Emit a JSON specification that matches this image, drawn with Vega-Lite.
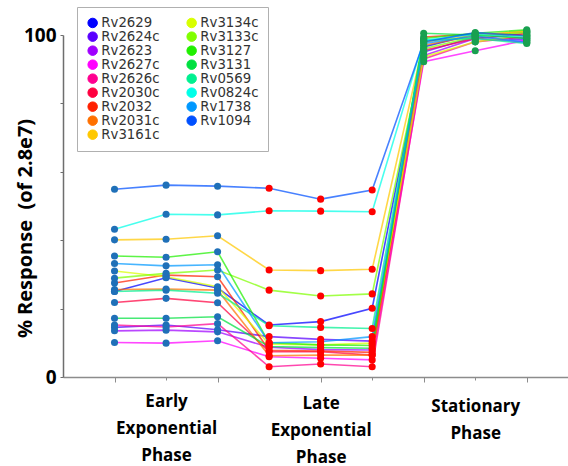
{
  "$schema": "https://vega.github.io/schema/vega-lite/v6.json",
  "autosize": "none",
  "width": 505,
  "height": 342,
  "padding": {"left": 63, "top": 35, "right": 0, "bottom": 89},
  "background": "white",
  "config": {"view": {"stroke": null}},
  "datasets": {
    "resp": [
      {"s":"Rv2629","x":1,"v":25.0},{"s":"Rv2629","x":2,"v":29.0},{"s":"Rv2629","x":3,"v":26.0},{"s":"Rv2629","x":4,"v":15.2},{"s":"Rv2629","x":5,"v":16.2},{"s":"Rv2629","x":6,"v":20.1},{"s":"Rv2629","x":7,"v":96.5},{"s":"Rv2629","x":8,"v":100.3},{"s":"Rv2629","x":9,"v":99.0},
      {"s":"Rv2624c","x":1,"v":14.5},{"s":"Rv2624c","x":2,"v":15.2},{"s":"Rv2624c","x":3,"v":13.8},{"s":"Rv2624c","x":4,"v":11.8},{"s":"Rv2624c","x":5,"v":11.0},{"s":"Rv2624c","x":6,"v":10.5},{"s":"Rv2624c","x":7,"v":95.0},{"s":"Rv2624c","x":8,"v":99.5},{"s":"Rv2624c","x":9,"v":98.5},
      {"s":"Rv2623","x":1,"v":13.5},{"s":"Rv2623","x":2,"v":13.7},{"s":"Rv2623","x":3,"v":13.2},{"s":"Rv2623","x":4,"v":8.7},{"s":"Rv2623","x":5,"v":8.0},{"s":"Rv2623","x":6,"v":7.9},{"s":"Rv2623","x":7,"v":94.0},{"s":"Rv2623","x":8,"v":99.0},{"s":"Rv2623","x":9,"v":98.0},
      {"s":"Rv2627c","x":1,"v":10.1},{"s":"Rv2627c","x":2,"v":9.9},{"s":"Rv2627c","x":3,"v":10.6},{"s":"Rv2627c","x":4,"v":5.9},{"s":"Rv2627c","x":5,"v":5.5},{"s":"Rv2627c","x":6,"v":5.0},{"s":"Rv2627c","x":7,"v":92.2},{"s":"Rv2627c","x":8,"v":95.4},{"s":"Rv2627c","x":9,"v":98.5},
      {"s":"Rv2626c","x":1,"v":15.2},{"s":"Rv2626c","x":2,"v":14.6},{"s":"Rv2626c","x":3,"v":15.6},{"s":"Rv2626c","x":4,"v":3.0},{"s":"Rv2626c","x":5,"v":3.8},{"s":"Rv2626c","x":6,"v":3.0},{"s":"Rv2626c","x":7,"v":93.0},{"s":"Rv2626c","x":8,"v":98.0},{"s":"Rv2626c","x":9,"v":99.5},
      {"s":"Rv2030c","x":1,"v":21.8},{"s":"Rv2030c","x":2,"v":23.0},{"s":"Rv2030c","x":3,"v":21.7},{"s":"Rv2030c","x":4,"v":7.4},{"s":"Rv2030c","x":5,"v":7.4},{"s":"Rv2030c","x":6,"v":6.4},{"s":"Rv2030c","x":7,"v":95.5},{"s":"Rv2030c","x":8,"v":99.0},{"s":"Rv2030c","x":9,"v":100.5},
      {"s":"Rv2032","x":1,"v":27.5},{"s":"Rv2032","x":2,"v":29.8},{"s":"Rv2032","x":3,"v":29.3},{"s":"Rv2032","x":4,"v":7.8},{"s":"Rv2032","x":5,"v":7.6},{"s":"Rv2032","x":6,"v":7.2},{"s":"Rv2032","x":7,"v":99.4},{"s":"Rv2032","x":8,"v":100.3},{"s":"Rv2032","x":9,"v":100.0},
      {"s":"Rv2031c","x":1,"v":25.6},{"s":"Rv2031c","x":2,"v":25.7},{"s":"Rv2031c","x":3,"v":25.4},{"s":"Rv2031c","x":4,"v":6.2},{"s":"Rv2031c","x":5,"v":6.4},{"s":"Rv2031c","x":6,"v":6.4},{"s":"Rv2031c","x":7,"v":97.0},{"s":"Rv2031c","x":8,"v":99.8},{"s":"Rv2031c","x":9,"v":101.0},
      {"s":"Rv3161c","x":1,"v":40.1},{"s":"Rv3161c","x":2,"v":40.3},{"s":"Rv3161c","x":3,"v":41.3},{"s":"Rv3161c","x":4,"v":31.3},{"s":"Rv3161c","x":5,"v":31.1},{"s":"Rv3161c","x":6,"v":31.5},{"s":"Rv3161c","x":7,"v":98.0},{"s":"Rv3161c","x":8,"v":100.0},{"s":"Rv3161c","x":9,"v":101.2},
      {"s":"Rv3134c","x":1,"v":31.0},{"s":"Rv3134c","x":2,"v":29.3},{"s":"Rv3134c","x":3,"v":26.4},{"s":"Rv3134c","x":4,"v":9.6},{"s":"Rv3134c","x":5,"v":9.4},{"s":"Rv3134c","x":6,"v":9.9},{"s":"Rv3134c","x":7,"v":93.6},{"s":"Rv3134c","x":8,"v":98.0},{"s":"Rv3134c","x":9,"v":100.0},
      {"s":"Rv3133c","x":1,"v":28.9},{"s":"Rv3133c","x":2,"v":30.3},{"s":"Rv3133c","x":3,"v":31.3},{"s":"Rv3133c","x":4,"v":25.4},{"s":"Rv3133c","x":5,"v":23.7},{"s":"Rv3133c","x":6,"v":24.3},{"s":"Rv3133c","x":7,"v":96.0},{"s":"Rv3133c","x":8,"v":99.5},{"s":"Rv3133c","x":9,"v":100.8},
      {"s":"Rv3127","x":1,"v":35.4},{"s":"Rv3127","x":2,"v":35.0},{"s":"Rv3127","x":3,"v":36.6},{"s":"Rv3127","x":4,"v":10.0},{"s":"Rv3127","x":5,"v":9.4},{"s":"Rv3127","x":6,"v":9.2},{"s":"Rv3127","x":7,"v":99.0},{"s":"Rv3127","x":8,"v":100.5},{"s":"Rv3127","x":9,"v":101.5},
      {"s":"Rv3131","x":1,"v":17.2},{"s":"Rv3131","x":2,"v":17.2},{"s":"Rv3131","x":3,"v":17.6},{"s":"Rv3131","x":4,"v":8.9},{"s":"Rv3131","x":5,"v":8.6},{"s":"Rv3131","x":6,"v":8.4},{"s":"Rv3131","x":7,"v":100.5},{"s":"Rv3131","x":8,"v":100.0},{"s":"Rv3131","x":9,"v":99.0},
      {"s":"Rv0569","x":1,"v":25.0},{"s":"Rv0569","x":2,"v":25.4},{"s":"Rv0569","x":3,"v":24.5},{"s":"Rv0569","x":4,"v":15.0},{"s":"Rv0569","x":5,"v":14.5},{"s":"Rv0569","x":6,"v":14.2},{"s":"Rv0569","x":7,"v":98.5},{"s":"Rv0569","x":8,"v":99.0},{"s":"Rv0569","x":9,"v":97.5},
      {"s":"Rv0824c","x":1,"v":43.2},{"s":"Rv0824c","x":2,"v":47.6},{"s":"Rv0824c","x":3,"v":47.4},{"s":"Rv0824c","x":4,"v":48.6},{"s":"Rv0824c","x":5,"v":48.5},{"s":"Rv0824c","x":6,"v":48.3},{"s":"Rv0824c","x":7,"v":98.5},{"s":"Rv0824c","x":8,"v":100.2},{"s":"Rv0824c","x":9,"v":99.5},
      {"s":"Rv1738","x":1,"v":33.2},{"s":"Rv1738","x":2,"v":32.5},{"s":"Rv1738","x":3,"v":32.8},{"s":"Rv1738","x":4,"v":10.0},{"s":"Rv1738","x":5,"v":10.3},{"s":"Rv1738","x":6,"v":11.8},{"s":"Rv1738","x":7,"v":97.5},{"s":"Rv1738","x":8,"v":99.7},{"s":"Rv1738","x":9,"v":97.8},
      {"s":"Rv1094","x":1,"v":54.9},{"s":"Rv1094","x":2,"v":56.1},{"s":"Rv1094","x":3,"v":55.8},{"s":"Rv1094","x":4,"v":55.2},{"s":"Rv1094","x":5,"v":52.0},{"s":"Rv1094","x":6,"v":54.7},{"s":"Rv1094","x":7,"v":98.0},{"s":"Rv1094","x":8,"v":100.7},{"s":"Rv1094","x":9,"v":99.8}
    ]
  },
  "data": {"name": "resp"},
  "encoding": {
    "x": {
      "field": "x", "type": "quantitative",
      "scale": {"domain": [0, 9.8], "nice": false, "zero": false},
      "axis": {
        "title": null, "grid": false,
        "values": [1, 2, 3, 4, 5, 6, 7, 8, 9],
        "domainColor": "#8c8c8c", "domainWidth": 1.5,
        "tickColor": "#8c8c8c", "tickWidth": 1,
        "tickSize": {"condition": {"test": "datum.value % 2 == 1", "value": 5}, "value": 3},
        "labelExpr": "datum.value == 2 ? ['Early', 'Exponential', 'Phase'] : datum.value == 5 ? ['Late', 'Exponential', 'Phase'] : datum.value == 8 ? ['Stationary', 'Phase'] : ''",
        "labelFont": "Open Sans", "labelFontWeight": "bold", "labelFontSize": 17, "labelColor": "#000",
        "labelLineHeight": 27, "labelBaseline": "top", "labelAlign": "center",
        "labelPadding": {"condition": {"test": "datum.value == 8", "value": 18}, "value": 13},
        "labelOverlap": false, "labelFlush": false, "labelBound": false
      }
    },
    "y": {
      "field": "v", "type": "quantitative",
      "scale": {"domain": [0, 100], "nice": false},
      "axis": {
        "title": "% Response \u00a0(of 2.8e7)", "grid": false,
        "values": [0, 20, 40, 60, 80, 100],
        "labelExpr": "datum.value == 0 || datum.value == 100 ? datum.label : ''",
        "domainColor": "#6e6e6e", "domainWidth": 1.5,
        "tickColor": "#6e6e6e", "tickSize": 3,
        "labelFont": "Open Sans", "labelFontWeight": "bold", "labelFontSize": 19, "labelColor": "#000",
        "labelPadding": 4, "labelOverlap": false, "labelFlush": false,
        "titleFont": "Open Sans", "titleFontWeight": "bold", "titleFontSize": 20, "titleColor": "#000",
        "titleX": -38, "titleY": 193, "titleAngle": -90, "titleBaseline": "middle", "titleAlign": "center"
      }
    }
  },
  "layer": [
    {
      "mark": {"type": "point", "filled": true, "size": 0, "opacity": 1, "clip": false},
      "encoding": {
        "color": {
          "field": "s", "type": "nominal",
          "scale": {
            "domain": ["Rv2629", "Rv2624c", "Rv2623", "Rv2627c", "Rv2626c", "Rv2030c", "Rv2032", "Rv2031c", "Rv3161c", "Rv3134c", "Rv3133c", "Rv3127", "Rv3131", "Rv0569", "Rv0824c", "Rv1738", "Rv1094"],
            "range": ["#0000ff", "#5a00ff", "#a000ff", "#ff00ff", "#ff0090", "#ff0040", "#ff2000", "#ff7000", "#ffc800", "#d8ff00", "#80ff00", "#20f000", "#00e040", "#00f090", "#00ffe8", "#0098ff", "#0050ff"]
          },
          "legend": {
            "title": null, "orient": "none", "legendX": 14, "legendY": -28,
            "columns": 2, "columnPadding": 24, "rowPadding": -1.2,
            "padding": 9, "fillColor": "#ffffff", "strokeColor": "#b0b0b0",
            "symbolType": "circle", "symbolSize": 90, "symbolStrokeWidth": 1, "symbolStrokeColor": "#222222",
            "symbolOpacity": 1,
            "labelFont": "DejaVu Sans", "labelFontSize": 13.3, "labelColor": "#333333", "labelOffset": 2,
            "labelLimit": 200,
            "encode": {
              "symbols": {"update": {"stroke": {"value": "#222222"}, "strokeWidth": {"value": 1}, "opacity": {"value": 1}}}
            }
          }
        }
      }
    },
    {
      "mark": {"type": "line", "strokeWidth": 1.6, "strokeOpacity": 0.72, "clip": false},
      "encoding": {
        "color": {"field": "s", "type": "nominal"}
      }
    },
    {
      "mark": {"type": "circle", "size": 50, "opacity": 1, "clip": false},
      "encoding": {
        "fill": {
          "condition": [
            {"test": "datum.x <= 3", "value": "#1f70b8"},
            {"test": "datum.x <= 6", "value": "#ff0000"}
          ],
          "value": "#19a050"
        }
      }
    }
  ]
}
